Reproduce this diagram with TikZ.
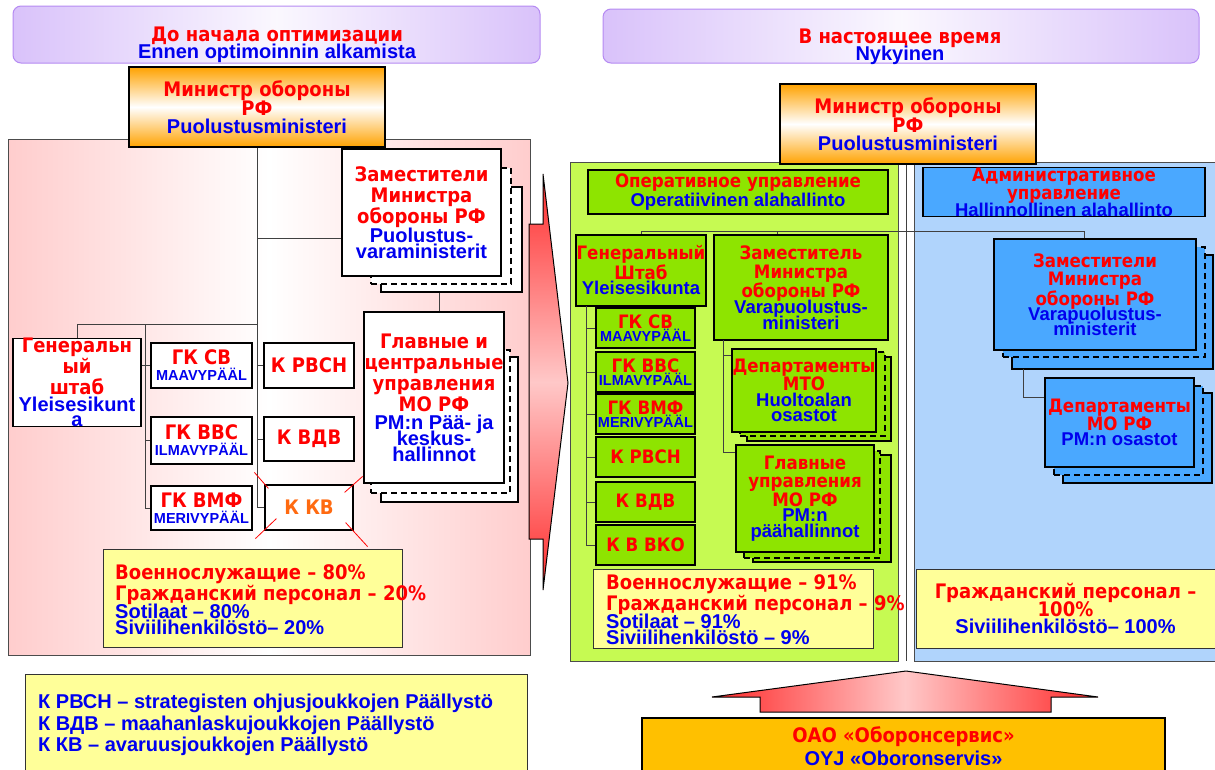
\documentclass[tikz,border=0pt]{standalone}
\usepackage{fontspec}
\usetikzlibrary{positioning,calc}
\newfontfamily\rufont{DejaVu Sans}[FakeStretch=0.9]
\newfontfamily\fifont{Liberation Sans}
\definecolor{tred}{HTML}{FF0000}
\definecolor{tblue}{HTML}{0000EE}
\definecolor{korange}{HTML}{FF6A10}
\definecolor{lav}{HTML}{D9C2FA}
\definecolor{lavline}{HTML}{B58AF2}
\definecolor{pinkp}{HTML}{FFCDCD}
\definecolor{orng}{HTML}{FFA200}
\definecolor{gold}{HTML}{FFC000}
\definecolor{statyellow}{HTML}{FFFF99}
\definecolor{panelgreen}{HTML}{C6FA52}
\definecolor{boxgreen}{HTML}{8EE400}
\definecolor{panelblue}{HTML}{B0D4FC}
\definecolor{boxblue}{HTML}{4AA8FF}
\definecolor{arrred}{HTML}{FF2A2A}
\definecolor{arrpink}{HTML}{FFC8C8}
% lines inside boxes (centred, no width)
\newcommand\rutx[1]{\makebox[0pt]{\rufont\bfseries\color{tred}#1}}
\newcommand\fitx[1]{\makebox[0pt]{\fifont\bfseries\color{tblue}#1}}
\newcommand\fism[1]{\makebox[0pt]{\fontsize{14.5}{14}\selectfont\fifont\bfseries\color{tblue}#1}}
% lines of free text
\newcommand\ruln[1]{{\rufont\bfseries\color{tred}#1}}
\newcommand\filn[1]{{\fifont\bfseries\color{tblue}#1}}
\begin{document}
\begin{tikzpicture}[x=1pt, y=-1pt,
    box/.style={draw, line width=1.2pt, fill=white, inner sep=0pt, align=center,
      font=\fontsize{20}{21}\selectfont},
    rbox/.style={box, font=\fontsize{18.5}{18.5}\selectfont},
    gbox/.style={rbox, fill=boxgreen},
    bbox/.style={rbox, fill=boxblue},
    sheet/.style={draw, line width=1.2pt, fill=white, inner sep=0pt},
    dsheet/.style={sheet, dash pattern=on 6pt off 4pt},
    statbox/.style={draw=black!80, line width=0.8pt, fill=statyellow, inner sep=0pt, align=center,
      font=\fontsize{20}{21}\selectfont},
    txt/.style={inner sep=0pt, align=center, font=\fontsize{20}{19}\selectfont},
    link/.style={draw=black!75, line width=0.8pt},
    kvcross/.style={draw=red, line width=0.8pt}
  ]
  \useasboundingbox (0,0) rectangle (1215,769);

  % panels
  \path[draw=lavline, line width=1pt, rounded corners=8pt, left color=lav, right color=lav, middle color=lav!12]
    (13,6) rectangle (540,63);
  \path[draw=lavline, line width=1pt, rounded corners=8pt, left color=lav, right color=lav, middle color=lav!12]
    (603,9) rectangle (1199,63);
  \path[draw=black!70, line width=1pt, left color=pinkp, right color=pinkp, middle color=white]
    (8,139) rectangle (530,655);
  \path[draw=black!70, line width=1pt, fill=panelgreen] (570,162) rectangle (898,661);
  \path[draw=black!70, line width=1pt, fill=panelblue] (914,162) rectangle (1222,661);

  \node[txt] (hdrL) at (277,45) {\rutx{До начала оптимизации}\\[-2pt]\fitx{Ennen optimoinnin alkamista}};
  \node[txt] (hdrR) at (900,47) {\rutx{В настоящее время}\\[-2pt]\fitx{Nykyinen}};

  % middle arrow
  \path[draw, line width=1pt, top color=arrred, bottom color=arrred, middle color=arrpink]
    (529,224) -- (543,224) -- (543,174) -- (568,383) -- (543,590) -- (543,539) -- (529,539) -- cycle;

  % ---- before ----
  \node[box, minimum width=256, minimum height=80, top color=orng, bottom color=orng, middle color=white]
    (minL) at (257,107) {\rutx{Министр обороны}\\[-2pt]\rutx{РФ}\\[-3pt]\fitx{Puolustusministeri}};

  \node[box, minimum width=128, minimum height=87] (genL) at (77,382.5)
    {\rutx{Генеральн}\\\rutx{ый}\\\rutx{штаб}\\[-4pt]\fitx{Yleisesikunt}\\[-6pt]\fitx{a}};
  \node[box, minimum width=101, minimum height=45] (gksvL) at (201.5,365.5)
    {\rutx{ГК СВ}\\[-5pt]\fism{MAAVYPÄÄL}};
  \node[box, minimum width=101, minimum height=47] (gkvvsL) at (201.5,440.5)
    {\rutx{ГК ВВС}\\[-5pt]\fism{ILMAVYPÄÄL}};
  \node[box, minimum width=101, minimum height=44] (gkvmfL) at (201.5,508)
    {\rutx{ГК ВМФ}\\[-5pt]\fism{MERIVYPÄÄL}};
  \node[box, minimum width=90, minimum height=45] (krvsnL) at (309,365.5) {\rutx{К РВСН}};
  \node[box, minimum width=90, minimum height=44] (kvdvL) at (309,439) {\rutx{К ВДВ}};
  \node[box, minimum width=88, minimum height=45] (kkvL) at (309,507.5)
    {\makebox[0pt]{\rufont\bfseries\color{korange}К КВ}};

  \node[sheet, minimum width=141, minimum height=105] (zamL3) at (451.5,239.5) {};
  \node[dsheet, minimum width=140, minimum height=116] (zamL2) at (441,226) {};
  \node[box, minimum width=159, minimum height=127] (zamL) at (421.5,212.5)
    {\rutx{Заместители}\\\rutx{Министра}\\\rutx{обороны РФ}\\[-2pt]\fitx{Puolustus-}\\[-5pt]\fitx{varaministerit}};

  \node[sheet, minimum width=137, minimum height=145] (glavL3) at (449.5,429.5) {};
  \node[dsheet, minimum width=139, minimum height=143] (glavL2) at (440.5,421.5) {};
  \node[box, minimum width=140, minimum height=171] (glavL) at (434,397.5)
    {\rutx{Главные и}\\\rutx{центральные}\\\rutx{управления}\\\rutx{МО РФ}\\[-3pt]\fitx{PM:n Pää- ja}\\[-5pt]\fitx{keskus-}\\[-5pt]\fitx{hallinnot}};

  % links, before
  \coordinate (jL1) at (257,238);
  \coordinate (jL2) at (257,324);
  \coordinate (jL3) at (145,324);
  \draw[link] (minL.south) |- (kkvL.west);
  \draw[link] (jL1) -- (jL1 -| zamL.west);
  \draw[link] (genL.north) |- (jL2);
  \draw[link] (jL3) |- (gkvmfL.west);
  \draw[link] (genL.east |- gksvL.west) -- (gksvL.west);
  \draw[link] (jL3 |- gkvvsL.west) -- (gkvvsL.west);
  \draw[link] (minL.south |- krvsnL.west) -- (krvsnL.west);
  \draw[link] (minL.south |- kvdvL.west) -- (kvdvL.west);
  \draw[link] ([xshift=5pt]glavL.north) -- ([xshift=5pt]glavL.north |- zamL3.south);

  % crossed out
  \draw[kvcross] (kkvL.north west) ++(-10,-12) -- ++(14,16);
  \draw[kvcross] (kkvL.north east) ++(-9,8) -- ++(18,-16);
  \draw[kvcross] (kkvL.south west) ++(-9,8) -- ++(21,-20);
  \draw[kvcross] (kkvL.south east) ++(-8,-8) -- ++(22,24);

  \node[statbox, minimum width=299, minimum height=98] (statL) at (252.5,598) {};
  \node[txt, anchor=west, align=left, font=\fontsize{20}{21}\selectfont] (statLt) at (115,600)
    {\ruln{Военнослужащие – 80\%}\\\ruln{Гражданский персонал – 20\%}\\[-3pt]\filn{Sotilaat – 80\%}\\[-5pt]\filn{Siviilihenkilöstö– 20\%}};

  \node[statbox, minimum width=502, minimum height=110, anchor=north west] (legend) at (25,674) {};
  \node[txt, anchor=west, align=left, font=\fontsize{20}{21.5}\selectfont] (legendt) at (38,725)
    {\filn{К РВСН – strategisten ohjusjoukkojen Päällystö}\\\filn{К ВДВ – maahanlaskujoukkojen Päällystö}\\\filn{К КВ – avaruusjoukkojen Päällystö}};

  % ---- now ----
  \coordinate (hR1) at (1084,231);
  \coordinate (hRz) at (777,231);
  \coordinate (minRend) at (906,661);
  \coordinate (jR1) at (586,306);
  \coordinate (jR2) at (723,340);
  \coordinate (jA) at (1023,369);

  \node[box, minimum width=256, minimum height=80, top color=orng, bottom color=orng, middle color=white]
    (minR) at (908,124) {\rutx{Министр обороны}\\[-2pt]\rutx{РФ}\\[-3pt]\fitx{Puolustusministeri}};
  \draw[link] (minRend |- minR.south) -- (minRend);

  \node[gbox, minimum width=300, minimum height=44] (opR) at (738,192)
    {\rutx{Оперативное управление}\\[0.5pt]\fitx{Operatiivinen alahallinto}};
  \node[bbox, minimum width=282, minimum height=44] (admA) at (1064,192)
    {\rutx{Административное}\\\rutx{управление}\\[-2pt]\fitx{Hallinnollinen alahallinto}};

  \node[gbox, minimum width=130, minimum height=71] (genR) at (641,270.5)
    {\rutx{Генеральный}\\\rutx{Штаб}\\[-3pt]\fitx{Yleisesikunta}};
  \node[gbox, minimum width=99, minimum height=40] (gksvR) at (645.5,328)
    {\rutx{ГК СВ}\\[-5pt]\fism{MAAVYPÄÄL}};
  \node[gbox, minimum width=99, minimum height=40] (gkvvsR) at (645.5,372)
    {\rutx{ГК ВВС}\\[-5pt]\fism{ILMAVYPÄÄL}};
  \node[gbox, minimum width=99, minimum height=40] (gkvmfR) at (645.5,414)
    {\rutx{ГК ВМФ}\\[-5pt]\fism{MERIVYPÄÄL}};
  \node[gbox, minimum width=99, minimum height=40] (krvsnR) at (645.5,457) {\rutx{К РВСН}};
  \node[gbox, minimum width=99, minimum height=40] (kvdvR) at (645.5,502) {\rutx{К ВДВ}};
  \node[gbox, minimum width=99, minimum height=40] (kvkoR) at (645.5,545) {\rutx{К В ВКО}};

  \node[gbox, minimum width=174, minimum height=105] (zamR) at (801,287.5)
    {\rutx{Заместитель}\\\rutx{Министра}\\\rutx{обороны РФ}\\[-3pt]\fitx{Varapuolustus-}\\[-2.5pt]\fitx{ministeri}};

  \node[sheet, fill=boxgreen, minimum width=144, minimum height=84] (deptR3) at (819,399) {};
  \node[dsheet, fill=boxgreen, minimum width=145, minimum height=84] (deptR2) at (812.5,394) {};
  \node[gbox, minimum width=144, minimum height=83] (deptR) at (804,390.5)
    {\rutx{Департаменты}\\\rutx{МТО}\\[-3pt]\fitx{Huoltoalan}\\[-3pt]\fitx{osastot}};

  \node[sheet, fill=boxgreen, minimum width=138, minimum height=107] (glavR3) at (822,508.5) {};
  \node[dsheet, fill=boxgreen, minimum width=136, minimum height=107] (glavR2) at (812,504.5) {};
  \node[gbox, minimum width=138, minimum height=107] (glavR) at (805,498.5)
    {\rutx{Главные}\\\rutx{управления}\\\rutx{МО РФ}\\[-3pt]\fitx{PM:n}\\[-3pt]\fitx{päähallinnot}};

  \node[sheet, fill=boxblue, minimum width=201, minimum height=114] (zamA3) at (1112.5,312) {};
  \node[dsheet, fill=boxblue, minimum width=202, minimum height=110] (zamA2) at (1104,302) {};
  \node[bbox, minimum width=202, minimum height=111] (zamA) at (1095,294.5)
    {\rutx{Заместители}\\\rutx{Министра}\\\rutx{обороны РФ}\\[-3.5pt]\fitx{Varapuolustus-}\\[-3.5pt]\fitx{ministerit}};

  \node[sheet, fill=boxblue, minimum width=149, minimum height=90] (deptA3) at (1137.5,438) {};
  \node[dsheet, fill=boxblue, minimum width=149, minimum height=89] (deptA2) at (1128.5,430.5) {};
  \node[bbox, minimum width=149, minimum height=89] (deptA) at (1119.5,422.5)
    {\rutx{Департаменты}\\\rutx{МО РФ}\\[-3.5pt]\fitx{PM:n osastot}};

  % links, now
  \draw[link] (genR.north) |- (hR1) -- (hR1 |- zamA.north);
  \draw[link] (hRz) -- (hRz |- zamR.north);
  \draw[link] (jR1) |- (kvkoR.west);
  \foreach \b in {gksvR, gkvvsR, gkvmfR, krvsnR, kvdvR}
    \draw[link] (jR1 |- \b.west) -- (\b.west);
  \draw[link] (jR2) |- ([yshift=-8pt]glavR.north west);
  \draw[link] ([yshift=-7pt]deptR.north west) -| (jR2);
  \draw[link] (jA) |- ([yshift=-20pt]deptA.north west);

  \node[statbox, minimum width=280, minimum height=79] (statR) at (733,608.5) {};
  \node[txt, anchor=west, align=left, font=\fontsize{20}{21}\selectfont] (statRt) at (606,610)
    {\ruln{Военнослужащие – 91\%}\\\ruln{Гражданский персонал – 9\%}\\[-3pt]\filn{Sotilaat – 91\%}\\[-5pt]\filn{Siviilihenkilöstö – 9\%}};
  \node[statbox, minimum width=299, minimum height=79] (statA) at (1065.5,608.5)
    {\rutx{Гражданский персонал –}\\[-3pt]\rutx{100\%}\\[-4pt]\fitx{Siviilihenkilöstö– 100\%}};

  % service arrow
  \path[draw, line width=1pt, left color=arrred, right color=arrred, middle color=arrpink]
    (712,697) -- (906,671) -- (1098,697) -- (1051,697) -- (1051,712) -- (760,712) -- (760,697) -- cycle;
  \node[box, fill=gold, minimum width=523, minimum height=57] (servis) at (903.5,746.5)
    {\rutx{ОАО «Оборонсервис»}\\[2pt]\fitx{OYJ «Oboronservis»}};
\end{tikzpicture}
\end{document}
